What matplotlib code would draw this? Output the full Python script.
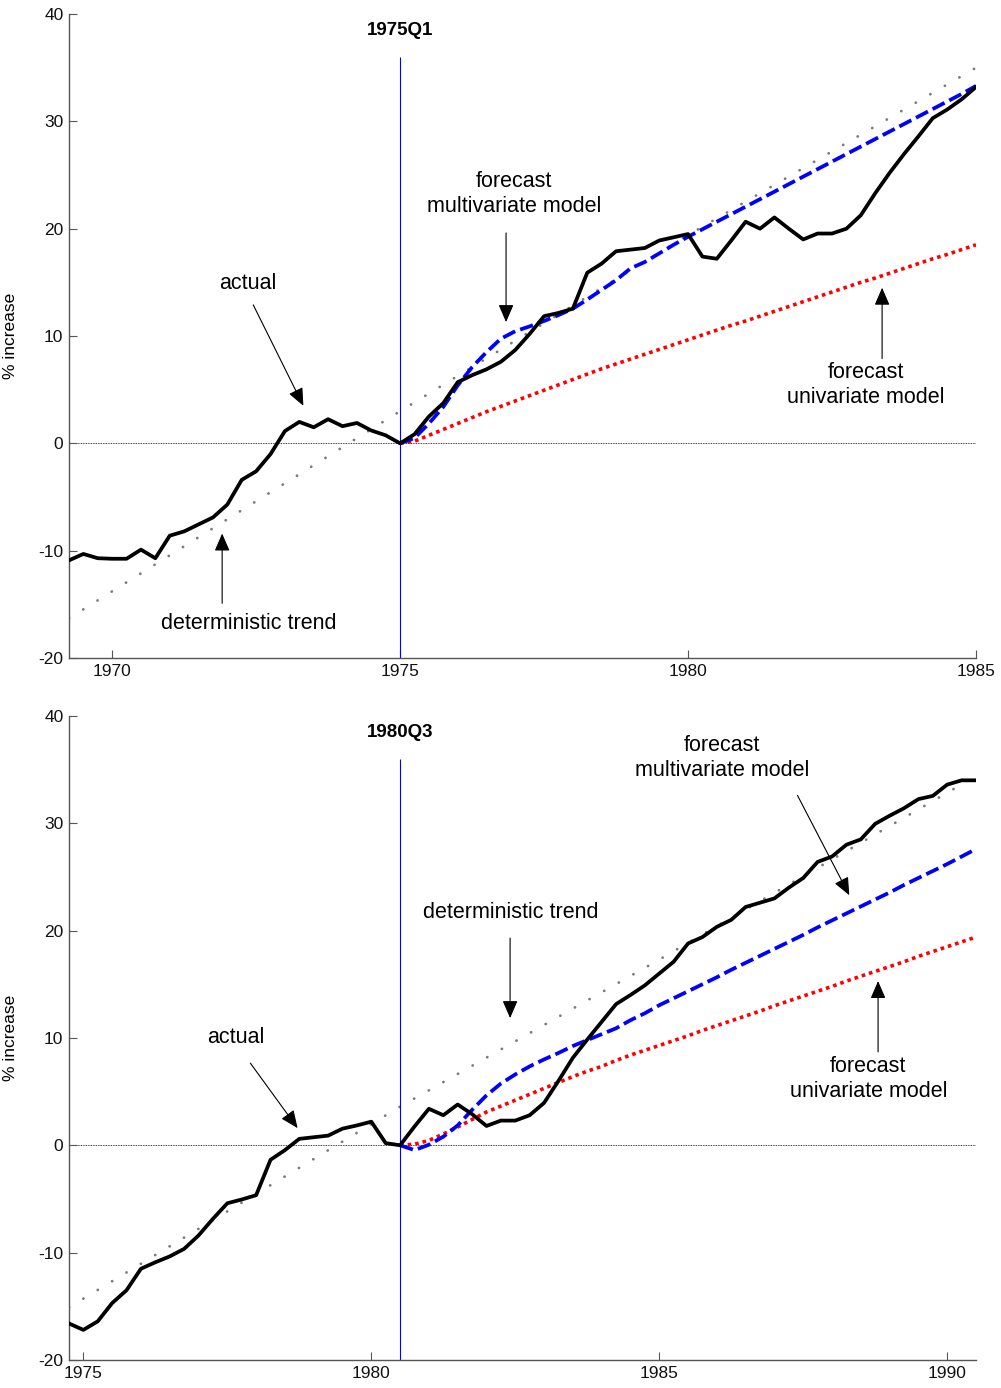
#%%
import numpy as np
import matplotlib
matplotlib.use("Agg")
import matplotlib.pyplot as plt

plt.rcParams['font.family'] = ['Liberation Sans', 'DejaVu Sans']
plt.rcParams['axes.unicode_minus'] = False

#%%
# top panel: forecasts made in 1975Q1, quarterly data 1969Q2 - 1985Q1
top_start = 1969.25
top_origin = 1975.0
top_actual = [-10.9, -10.3, -10.7, -10.75, -10.75, -9.9, -10.7, -8.6, -8.2, -7.55, -6.9, -5.7,
              -3.4, -2.6, -1.0, 1.15, 2.0, 1.5, 2.25, 1.6, 1.9, 1.2, 0.75, 0.0,
              0.85, 2.5, 3.75, 5.7, 6.35, 6.9, 7.6, 8.7, 10.2, 11.85, 12.15, 12.55,
              15.9, 16.75, 17.9, 18.05, 18.2, 18.9, 19.2, 19.5,
              17.4, 17.2, 18.9, 20.65, 20.0, 21.05, 20.0, 19.0, 19.55, 19.55,
              20.0, 21.25, 23.3, 25.2, 26.95, 28.6, 30.3, 31.1, 32.05, 33.2]
top_multi = [0.0, 0.5, 1.85, 3.4, 5.4, 7.1, 8.5, 9.75, 10.45, 10.9, 11.4, 11.95, 12.55,
             13.4, 14.3, 15.2, 16.3, 16.9, 17.7, 18.5, 19.25,
             19.95, 20.65, 21.35, 22.05, 22.75, 23.45, 24.15, 24.85, 25.55, 26.25,
             26.95, 27.65, 28.35, 29.05, 29.75, 30.45, 31.15, 31.85, 32.55, 33.3]
top_uni = [0.0, 0.2, 0.75, 1.3, 1.85, 2.4, 2.95, 3.45, 3.95, 4.45, 4.95, 5.45, 5.95,
           6.45, 6.95, 7.4, 7.85, 8.3, 8.75, 9.2, 9.65,
           10.1, 10.55, 11.0, 11.4, 11.85, 12.3, 12.75, 13.2, 13.65, 14.1,
           14.55, 15.0, 15.4, 15.85, 16.3, 16.75, 17.2, 17.6, 18.05, 18.5]
top_trend_x = [1969.25, 1975.0, 1980.0, 1985.0]
top_trend_y = [-16.3, 3.0, 19.4, 35.0]

# bottom panel: forecasts made in 1980Q3, quarterly data 1974Q4 - 1990Q3
bot_start = 1974.75
bot_origin = 1980.5
bot_actual = [-16.6, -17.2, -16.4, -14.7, -13.5, -11.5, -10.9, -10.35, -9.65, -8.4, -6.85, -5.4,
              -5.05, -4.65, -1.35, -0.45, 0.6, 0.75, 0.9, 1.55, 1.85, 2.2, 0.2, 0.0,
              1.75, 3.4, 2.8, 3.8, 2.9, 1.8, 2.3, 2.3, 2.8, 3.95, 6.0, 8.15, 9.85,
              11.5, 13.15, 14.0, 14.9, 16.0,
              17.1, 18.8, 19.4, 20.35, 21.0, 22.2, 22.6, 23.0, 24.0, 24.9, 26.4,
              26.9, 28.0, 28.5, 29.95, 30.7, 31.4, 32.25, 32.55, 33.6, 34.0, 34.0]
bot_multi = [0.0, -0.45, 0.05, 0.8, 1.85, 3.3, 4.65, 5.75, 6.6, 7.35, 8.0, 8.6, 9.25,
             9.8, 10.35, 10.9, 11.65, 12.3, 13.05,
             13.7, 14.35, 15.0, 15.65, 16.35, 17.0, 17.65, 18.3, 18.95, 19.6, 20.3,
             20.95, 21.6, 22.25, 22.9, 23.55, 24.25, 24.9, 25.55, 26.2, 26.9, 27.6]
bot_uni = [0.0, 0.1, 0.45, 1.05, 1.7, 2.4, 3.1, 3.65, 4.2, 4.75, 5.3, 5.85, 6.4,
           6.9, 7.35, 7.9, 8.4, 8.85, 9.3,
           9.75, 10.2, 10.7, 11.15, 11.6, 12.05, 12.5, 13.0, 13.45, 13.9, 14.35,
           14.8, 15.3, 15.75, 16.2, 16.65, 17.1, 17.6, 18.05, 18.5, 18.95, 19.4]
bot_trend_x = [1974.75, 1980.5, 1985.0, 1990.5]
bot_trend_y = [-15.1, 3.6, 17.3, 34.4]

y_ticks = [-20, -10, 0, 10, 20, 30, 40]
top_xticks = [1970, 1975, 1980, 1985]
bot_xticks = [1975, 1980, 1985, 1990]

#%%
def quarters(start, n):
    return start + 0.25 * np.arange(n)


def arrow(ax, start, end):
    ax.annotate('', xy=end, xytext=start,
                arrowprops=dict(arrowstyle='-|>,head_length=0.6,head_width=0.26',
                                mutation_scale=18, color='black', lw=0.8,
                                shrinkA=0, shrinkB=0))


def panel(ax, start, origin, actual, multi, uni, trend_x, trend_y, xlim, xticks, title):
    # zero reference line
    ax.axhline(0, color='black', lw=0.6, ls=(0, (1, 1)), zorder=1)
    # deterministic trend, drawn as grey dots
    ax.plot(trend_x, trend_y, color='#7a7a7a', lw=2.0, ls=(0, (0.05, 6.0)),
            dash_capstyle='round', zorder=2)
    # forecast origin
    ax.vlines(origin, -20, 36, color='blue', lw=0.8, zorder=2)
    ax.plot(quarters(origin, len(uni)), uni, color='red', lw=2.6, ls=(0, (1, 1.1)), zorder=3)
    ax.plot(quarters(origin, len(multi)), multi, color='blue', lw=2.7, ls=(0, (3.6, 1.4)), zorder=4)
    ax.plot(quarters(start, len(actual)), actual, color='black', lw=2.7, zorder=5)

    ax.set_xlim(xlim)
    ax.set_ylim(-20, 40)
    ax.set_xticks(xticks)
    ax.set_yticks(y_ticks)
    ax.spines['top'].set_visible(False)
    ax.spines['right'].set_visible(False)
    for s in ['left', 'bottom']:
        ax.spines[s].set_color('#555555')
        ax.spines[s].set_linewidth(1.0)
    ax.tick_params(direction='in', length=6, width=0.8, color='#555555',
                   labelsize=12.5, labelcolor='#111111')
    ax.tick_params(axis='y', pad=4)
    ax.tick_params(axis='x', pad=4)
    ax.set_ylabel('% increase', fontsize=12.5)
    ax.yaxis.set_label_coords(-0.056, 0.5)
    ax.text(origin, 38.5, title, ha='center', va='center', fontsize=13.5, fontweight='bold')


#%%
fig = plt.figure(figsize=(10.01, 13.88), dpi=100)
ax1 = fig.add_axes([0.0689, 0.5259, 0.9061, 0.464])
ax2 = fig.add_axes([0.0689, 0.0202, 0.9061, 0.464])

panel(ax1, top_start, top_origin, top_actual, top_multi, top_uni, top_trend_x, top_trend_y,
      (1969.25, 1985.0), top_xticks, '1975Q1')
panel(ax2, bot_start, bot_origin, bot_actual, bot_multi, bot_uni, bot_trend_x, bot_trend_y,
      (1974.75, 1990.5), bot_xticks, '1980Q3')

fs = 15.5
# labels top panel
ax1.text(1972.36, 14.9, 'actual', ha='center', va='center', fontsize=fs)
arrow(ax1, (1972.45, 12.9), (1973.32, 3.5))
ax1.text(1972.38, -16.8, 'deterministic trend', ha='center', va='center', fontsize=fs)
arrow(ax1, (1971.91, -14.9), (1971.91, -8.4))
ax1.text(1976.98, 23.2, 'forecast\nmultivariate model', ha='center', va='center',
         fontsize=fs, linespacing=1.25)
arrow(ax1, (1976.84, 19.6), (1976.84, 11.3))
ax1.text(1983.09, 5.4, 'forecast\nunivariate model', ha='center', va='center',
         fontsize=fs, linespacing=1.25)
arrow(ax1, (1983.37, 7.9), (1983.37, 14.5))

# labels bottom panel
ax2.text(1986.09, 36.1, 'forecast\nmultivariate model', ha='center', va='center',
         fontsize=fs, linespacing=1.25)
arrow(ax2, (1987.40, 32.6), (1988.30, 23.3))
ax2.text(1982.43, 21.7, 'deterministic trend', ha='center', va='center', fontsize=fs)
arrow(ax2, (1982.41, 19.3), (1982.41, 11.85))
ax2.text(1977.64, 10.07, 'actual', ha='center', va='center', fontsize=fs)
arrow(ax2, (1977.90, 7.65), (1978.72, 1.6))
ax2.text(1988.63, 6.15, 'forecast\nunivariate model', ha='center', va='center',
         fontsize=fs, linespacing=1.25)
arrow(ax2, (1988.80, 8.7), (1988.80, 15.3))

fig.savefig('out.png', dpi=100)
